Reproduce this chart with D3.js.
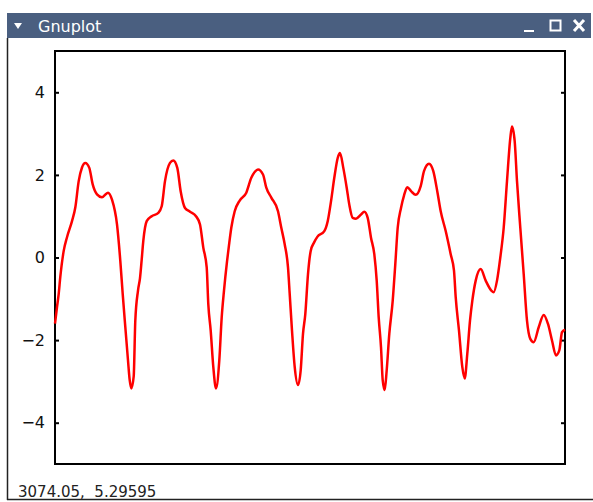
<!DOCTYPE html>
<html lang="en">
<head>
  <meta charset="UTF-8">
  <title>Gnuplot</title>
  <script src="https://cdnjs.cloudflare.com/ajax/libs/d3/7.8.5/d3.min.js"></script>
  <style>
    body { margin: 0; background: white; }
    svg { display: block; }
  </style>
</head>
<body>
  <script>
    // sample positions (arbitrary units, no x labels in the plot) and signal values
    var xs = [0, 2, 3.7, 5.3, 8.7, 12, 17, 20.3, 23.7, 27, 30.3, 34.3, 37.7, 42, 47, 53, 57, 62, 65.3, 67.7,
      70.3, 73, 74.7, 76.3, 78.7, 80.3, 83, 85, 86.7, 88.3, 91.7, 96.7, 103.3, 106.7, 110, 115, 118.3, 122.3,
      125.7, 130, 135, 141, 145, 148.3, 151.7, 153.3, 155.7, 158.3, 161, 164.3, 166.7, 169, 172, 174, 176.3,
      179.7, 184.7, 191.3, 196.3, 199.7, 203, 208, 211.3, 216.3, 223, 226.3, 229.7, 233, 234.7, 237, 239.7,
      243, 245.7, 248, 250.3, 253, 255.7, 259, 262.3, 269.3, 272.7, 276, 279.3, 282.7, 285, 288.3, 291.7,
      294.3, 297.7, 301, 306, 309.3, 312.7, 316, 319.3, 321.7, 323.7, 326, 327.7, 329.7, 331.7, 334.3, 337.7,
      340.3, 342.7, 346, 349, 352.3, 356.3, 360.7, 365.7, 369, 374, 378.3, 382.3, 385.7, 390.7, 395.7, 399,
      400.7, 404, 407.3, 409.7, 412.3, 415, 417.3, 420.7, 425.7, 430.7, 436.3, 438.7, 442, 445.3, 448.7, 452,
      455.3, 457, 459.7, 462, 465.3, 468.7, 472, 475.3, 478.7, 483.7, 488.7, 493, 497, 501, 504.3, 507, 510];
    var ys = [-1.60, -1.2, -0.88, -0.47, 0.16, 0.49, 0.88, 1.21, 1.85, 2.18, 2.29, 2.17, 1.77, 1.53, 1.46, 1.57, 1.40, 0.80, -0.08, -0.88,
      -1.68, -2.49, -2.97, -3.17, -2.88, -1.53, -0.80, -0.5, -0.05, 0.40, 0.88, 1.00, 1.08, 1.24, 1.85, 2.29, 2.35, 2.17,
      1.60, 1.20, 1.11, 1.00, 0.80, 0.24, -0.24, -1.13, -1.77, -2.65, -3.17, -2.49, -1.45, -0.80, -0.1, 0.3, 0.72,
      1.12, 1.38, 1.57, 1.93, 2.07, 2.13, 2.01, 1.69, 1.45, 1.12, 0.72, 0.32, -0.24, -0.88, -1.77, -2.65,
      -3.09, -2.73, -1.85, -1.37, -0.40, 0.16, 0.36, 0.50, 0.64, 0.88, 1.36, 1.93, 2.41, 2.53, 2.17, 1.69,
      1.28, 0.96, 0.94, 1.04, 1.11, 0.96, 0.48, 0.08, -0.56, -1.45, -2.17, -2.97, -3.21, -2.73, -1.85, -1.05,
      -0.16, 0.72, 1.20, 1.50, 1.70, 1.60, 1.52, 1.73, 2.09, 2.27, 2.09, 1.60, 1.12, 0.64, 0.08, -0.32,
      -0.96, -1.77, -2.65, -2.93, -2.33, -1.53, -1.05, -0.56, -0.28, -0.56, -0.80, -0.84, -0.56, 0.0, 0.72, 1.85,
      2.89, 3.17, 2.81, 1.85, 0.72, -0.40, -1.53, -1.97, -2.05, -1.69, -1.39, -1.61, -2.01, -2.37, -2.25, -1.81, -1.75];
    var yTicks = [-4, -2, 0, 2, 4];
    var statusText = "3074.05,  5.29595";

    var w = 593, h = 502;
    var svg = d3.select("body").append("svg")
      .attr("width", w)
      .attr("height", h);

    // window chrome
    svg.append("rect").attr("x", 7).attr("y", 13).attr("width", 584).attr("height", 25).attr("fill", "#4a5f80");
    svg.append("path").attr("d", "M14,23 L22,23 L18,29 Z").attr("fill", "white");
    svg.append("text").attr("x", 38).attr("y", 32).text("Gnuplot")
      .attr("fill", "white").style("font", "16px 'DejaVu Sans', sans-serif");
    svg.append("rect").attr("x", 524).attr("y", 30).attr("width", 10).attr("height", 2).attr("fill", "white");
    svg.append("rect").attr("x", 550.5).attr("y", 20.5).attr("width", 10).attr("height", 10)
      .attr("fill", "none").attr("stroke", "white").attr("stroke-width", 2);
    svg.append("path").attr("d", "M574,20 L584,31 M584,20 L574,31")
      .attr("stroke", "white").attr("stroke-width", 3);
    svg.append("line").attr("x1", 7.5).attr("x2", 7.5).attr("y1", 38).attr("y2", 500)
      .attr("stroke", "#222").attr("stroke-width", 1.5);
    svg.append("line").attr("x1", 7).attr("x2", 593).attr("y1", 499.5).attr("y2", 499.5)
      .attr("stroke", "#222").attr("stroke-width", 1.5);
    svg.append("text").attr("x", 18).attr("y", 497).text(statusText)
      .attr("fill", "#222").style("white-space", "pre")
      .style("font", "15px 'DejaVu Sans', sans-serif");

    // plot area
    var plotL = 55, plotR = 565, plotT = 51, plotB = 464;

    var xScale = d3.scaleLinear()
      .domain([d3.min(xs), d3.max(xs)])
      .range([plotL, plotR]);

    var yScale = d3.scaleLinear()
      .domain([-5, 5])
      .range([plotB, plotT]);

    var g = svg.append("g");

    var yAxisL = d3.axisLeft(yScale).tickValues(yTicks).tickSize(-4).tickPadding(10);
    var yAxisR = d3.axisRight(yScale).tickValues(yTicks).tickSize(-4).tickFormat("");

    g.append("g").attr("transform", "translate(" + plotL + ",0)").call(yAxisL);
    g.append("g").attr("transform", "translate(" + plotR + ",0)").call(yAxisR);
    g.selectAll(".domain").remove();
    g.selectAll(".tick line").attr("stroke", "black").attr("stroke-width", 2);
    g.selectAll(".tick text").attr("fill", "#111")
      .style("font", "16px 'DejaVu Sans', sans-serif");

    g.append("rect")
      .attr("x", plotL).attr("y", plotT)
      .attr("width", plotR - plotL).attr("height", plotB - plotT)
      .attr("fill", "none").attr("stroke", "black").attr("stroke-width", 2);

    var line = d3.line()
      .x(function(d){ return xScale(d[0]); })
      .y(function(d){ return yScale(d[1]); })
      .curve(d3.curveMonotoneX);

    g.append("path")
      .datum(d3.zip(xs, ys))
      .attr("d", line)
      .attr("fill", "none")
      .attr("stroke", "#ff0000")
      .attr("stroke-width", 2.5)
      .attr("stroke-linejoin", "round");
  </script>
</body>
</html>
